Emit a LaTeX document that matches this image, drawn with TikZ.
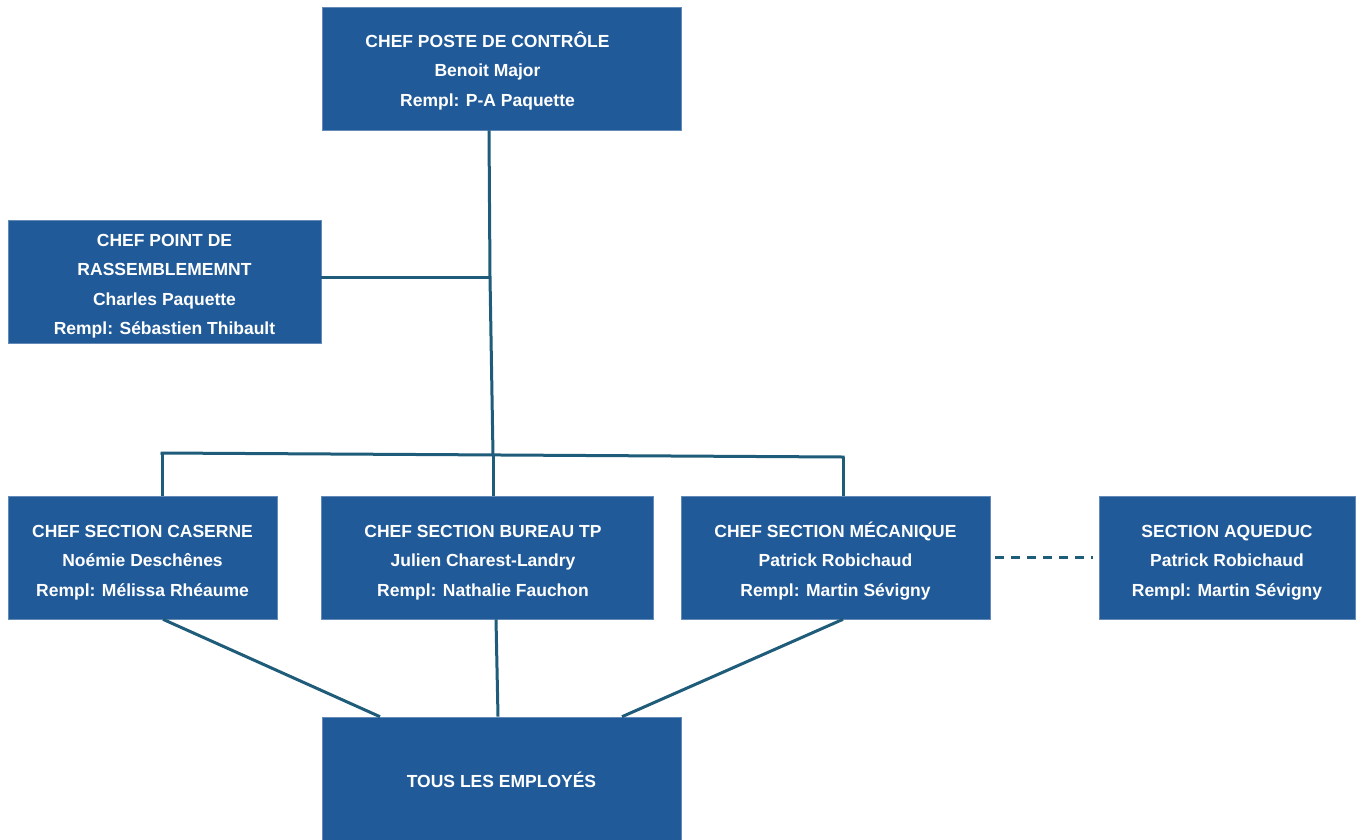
\documentclass[tikz,border=0pt]{standalone}
\usepackage{fontspec}
\setmainfont{Liberation Sans}
\definecolor{boxblue}{RGB}{33,90,152}
\definecolor{linkteal}{RGB}{30,92,122}
\newcommand{\firstline}[1]{\rule{0pt}{#1}}
\begin{document}
\begin{tikzpicture}[x=1pt,y=-1pt,
  box/.style={draw=boxblue!70!white, line width=0.6pt, fill=boxblue, text=white, align=center, inner sep=0pt,
    font=\fontsize{17.5}{29.5}\selectfont\bfseries},
  link/.style={draw=linkteal, line width=3pt},
  dashlink/.style={link, dash pattern=on 9pt off 7pt}]
\useasboundingbox (0,0) rectangle (1357,839);
\node[box, minimum width=359pt, minimum height=123pt] (top) at (501.5,68.5) {\firstline{20pt}CHEF POSTE DE CONTRÔLE\kern28pt\\Benoit Major\kern28pt\\Rempl: P-A Paquette\kern28pt};
\node[box, minimum width=313pt, minimum height=123pt] (rass) at (164.5,281.5) {\firstline{22pt}CHEF POINT DE\\RASSEMBLEMEMNT\\Charles Paquette\\Rempl: Sébastien Thibault};
\node[box, minimum width=269pt, minimum height=123pt] (cas) at (142.5,557.5) {\firstline{22pt}CHEF SECTION CASERNE\\Noémie Deschênes\\Rempl: Mélissa Rhéaume};
\node[box, minimum width=332pt, minimum height=123pt] (bur) at (487,557.5) {\firstline{22pt}CHEF SECTION BUREAU TP\kern8pt\\Julien Charest-Landry\kern8pt\\Rempl: Nathalie Fauchon\kern8pt};
\node[box, minimum width=309pt, minimum height=123pt] (mec) at (835.5,557.5) {\firstline{22pt}CHEF SECTION MÉCANIQUE\\Patrick Robichaud\\Rempl: Martin Sévigny};
\node[box, minimum width=256pt, minimum height=123pt] (aq) at (1227,557.5) {\firstline{22pt}SECTION AQUEDUC\\Patrick Robichaud\\Rempl: Martin Sévigny};
\node[box, minimum width=359pt, minimum height=126pt] (tous) at (501.5,780) {TOUS LES EMPLOYÉS};
\coordinate (jr) at (490,277);
\coordinate (jm) at (493,455);
\coordinate (jl) at (162,453);
\coordinate (jrr) at (843,457);
\draw[link] ([xshift=-12.5pt]top.south) -- (jr) -- (jm);
\draw[link] (rass.east |- jr) -- (jr);
\draw[link, line cap=rect] (jl) -- (jrr);
\draw[link] (jl) -- (jl |- cas.north);
\draw[link] (jm) -- (jm |- bur.north);
\draw[link] (jrr) -- (jrr |- mec.north);
\draw[link] ([xshift=20.5pt]cas.south) -- ([xshift=-121.5pt]tous.north);
\draw[link] ([xshift=9pt]bur.south) -- ([xshift=-3.5pt]tous.north);
\draw[link] ([xshift=7.5pt]mec.south) -- ([xshift=120.5pt]tous.north);
\draw[dashlink] ([xshift=5pt]mec.east) -- ([xshift=-6pt]aq.west);
\end{tikzpicture}
\end{document}
